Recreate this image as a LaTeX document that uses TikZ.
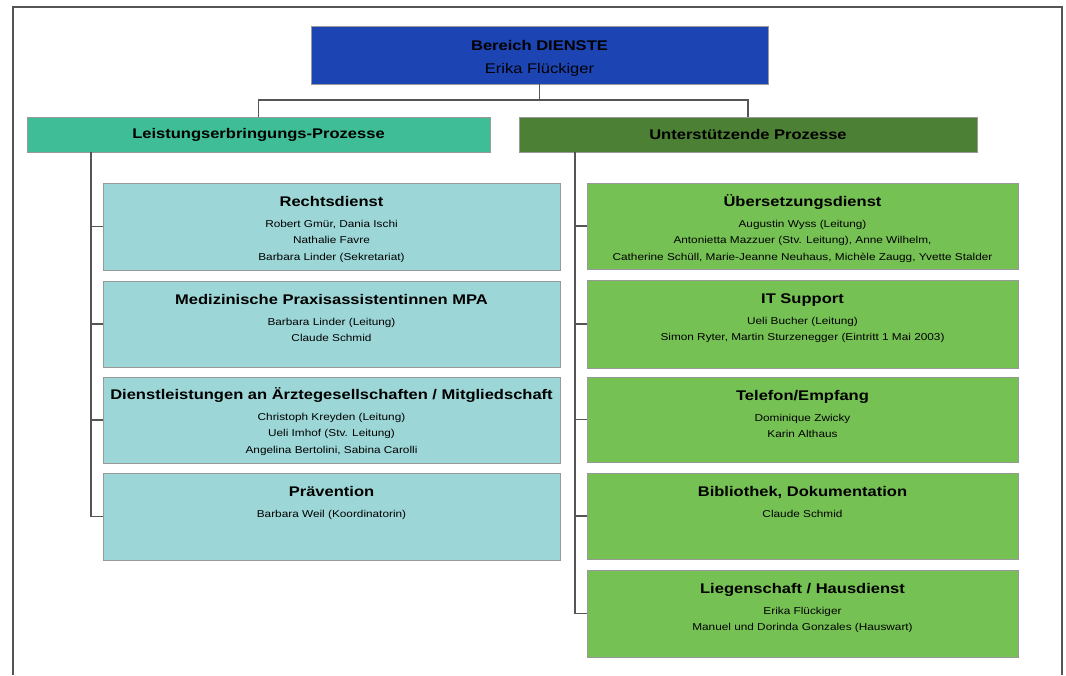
\documentclass[tikz,border=0pt]{standalone}
\usepackage{fontspec}
\setmainfont{Liberation Sans}
\newfontfamily\titlef[FakeStretch=1.18]{Liberation Sans}
\definecolor{topblue}{RGB}{28,68,178}
\definecolor{tealhead}{RGB}{62,189,150}
\definecolor{darkgreen}{RGB}{76,128,52}
\definecolor{lightcyan}{RGB}{156,214,214}
\definecolor{boxgreen}{RGB}{118,193,84}
\definecolor{linegray}{RGB}{85,85,85}
\begin{document}
\begin{tikzpicture}[x=1pt,y=-1pt,
  box/.style={rectangle,draw=black!40,line width=0.8pt,inner sep=0pt},
  lbox/.style={box,fill=lightcyan,minimum width=457pt},
  rbox/.style={box,fill=boxgreen,minimum width=431pt},
  head/.style={box,minimum width=463pt,minimum height=35pt,font=\titlef\fontsize{14}{16}\selectfont\bfseries},
  ttl/.style={anchor=base,inner sep=0pt,font=\titlef\fontsize{14}{16}\selectfont\bfseries},
  names/.style={anchor=north,inner sep=0pt,align=center,font=\titlef\fontsize{10}{16.5}\selectfont},
  conn/.style={draw=linegray,line width=1.3pt}]
\useasboundingbox (0,0) rectangle (1066,675);
\draw[draw=linegray,line width=1.5pt] (13,675) -- (13,7) -- (1062,7) -- (1062,675);

% top box
\node[box,fill=topblue,minimum width=457pt,minimum height=58pt] (top) at (539.5,55) {};
\node[align=center,inner sep=0pt,font=\titlef\fontsize{14}{23}\selectfont] (topt)
  at ([yshift=-3pt]top.center) {\bfseries Bereich DIENSTE\\Erika Flückiger};

% headers
\node[head,fill=tealhead] (lh) at (258.5,134.5) {Leistungserbringungs-Prozesse};
\node[head,fill=darkgreen,minimum width=458pt] (rh) at (748,134.5) {Unterstützende Prozesse};

\coordinate (hub) at (539.5,100);
\draw[conn] (top.south) -- (hub);
\draw[conn] (lh.north) -- (lh.north |- hub) -- (rh.north |- hub) -- (rh.north);

% left boxes
\node[lbox,minimum height=87pt] (l1) at (331.5,226.5) {};
\node[lbox,minimum height=86pt] (l2) at (331.5,324) {};
\node[lbox,minimum height=86pt] (l3) at (331.5,420) {};
\node[lbox,minimum height=87pt] (l4) at (331.5,516.5) {};

\node[ttl] (l1t) at ([yshift=-24pt]l1.north) {Rechtsdienst};
\node[names] (l1n) at ([yshift=-37pt]l1.north) {Robert Gmür, Dania Ischi\\Nathalie Favre\\Barbara Linder (Sekretariat)};
\node[ttl] (l2t) at ([yshift=-24pt]l2.north) {Medizinische Praxisassistentinnen MPA};
\node[names] (l2n) at ([yshift=-37pt]l2.north) {Barbara Linder (Leitung)\\Claude Schmid};
\node[ttl] (l3t) at ([yshift=-23pt]l3.north) {Dienstleistungen an Ärztegesellschaften / Mitgliedschaft};
\node[names] (l3n) at ([yshift=-36pt]l3.north) {Christoph Kreyden (Leitung)\\Ueli Imhof (Stv. Leitung)\\Angelina Bertolini, Sabina Carolli};
\node[ttl] (l4t) at ([yshift=-24pt]l4.north) {Prävention};
\node[names] (l4n) at ([yshift=-37pt]l4.north) {Barbara Weil (Koordinatorin)};

% right boxes
\node[rbox,minimum height=86pt] (r1) at (802.5,226) {};
\node[rbox,minimum height=88pt] (r2) at (802.5,324) {};
\node[rbox,minimum height=85pt] (r3) at (802.5,419.5) {};
\node[rbox,minimum height=86pt] (r4) at (802.5,516) {};
\node[rbox,minimum height=87pt] (r5) at (802.5,613.5) {};

\node[ttl] (r1t) at ([yshift=-24pt]r1.north) {Übersetzungsdienst};
\node[names] (r1n) at ([yshift=-37pt]r1.north) {Augustin Wyss (Leitung)\\Antonietta Mazzuer (Stv. Leitung), Anne Wilhelm,\\Catherine Schüll, Marie-Jeanne Neuhaus, Michèle Zaugg, Yvette Stalder};
\node[ttl] (r2t) at ([yshift=-24pt]r2.north) {IT Support};
\node[names] (r2n) at ([yshift=-37pt]r2.north) {Ueli Bucher (Leitung)\\Simon Ryter, Martin Sturzenegger (Eintritt 1 Mai 2003)};
\node[ttl] (r3t) at ([yshift=-24pt]r3.north) {Telefon/Empfang};
\node[names] (r3n) at ([yshift=-37pt]r3.north) {Dominique Zwicky\\Karin Althaus};
\node[ttl] (r4t) at ([yshift=-24pt]r4.north) {Bibliothek, Dokumentation};
\node[names] (r4n) at ([yshift=-37pt]r4.north) {Claude Schmid};
\node[ttl] (r5t) at ([yshift=-24pt]r5.north) {Liegenschaft / Hausdienst};
\node[names] (r5n) at ([yshift=-37pt]r5.north) {Erika Flückiger\\Manuel und Dorinda Gonzales (Hauswart)};

% spines
\coordinate (ls) at (lh.south -| 91,0);
\coordinate (rs) at (rh.south -| 575,0);
\draw[conn] (ls) |- (l4.west);
\foreach \b in {l1,l2,l3} \draw[conn] (ls |- \b.west) -- (\b.west);
\draw[conn] (rs) |- (r5.west);
\foreach \b in {r1,r2,r3,r4} \draw[conn] (rs |- \b.west) -- (\b.west);
\end{tikzpicture}
\end{document}
